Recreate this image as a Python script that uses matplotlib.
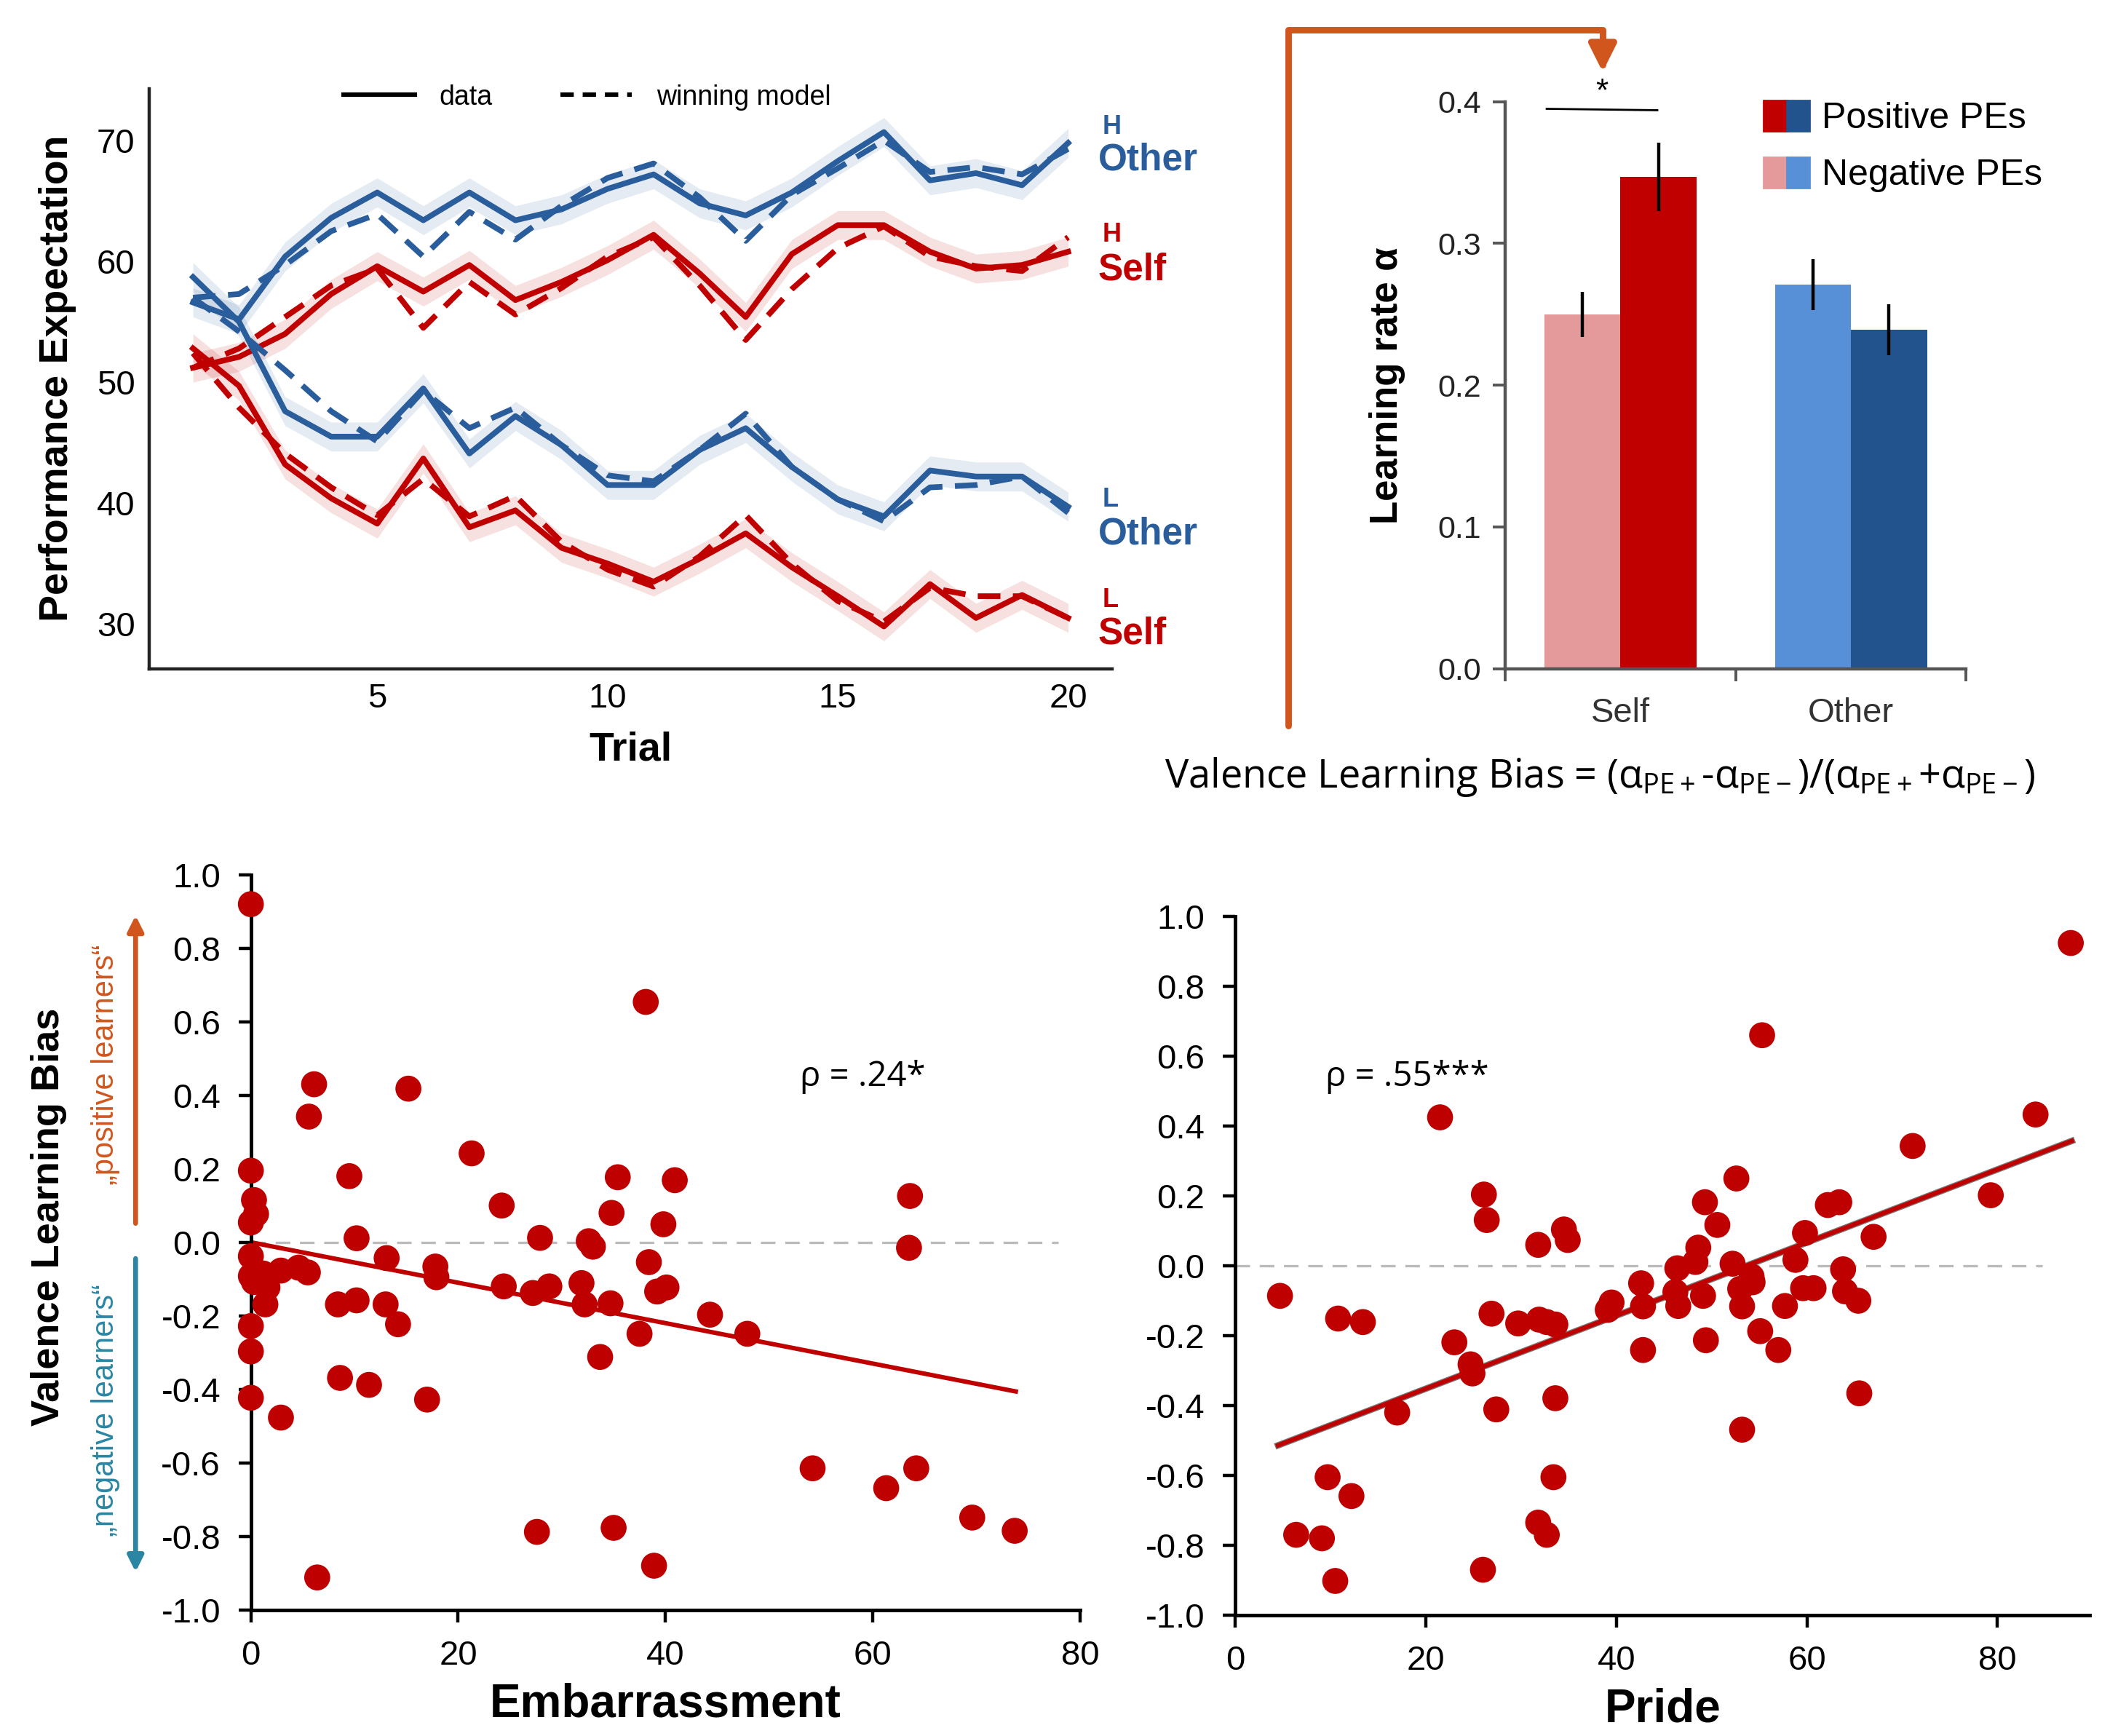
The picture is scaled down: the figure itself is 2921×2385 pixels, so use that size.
import matplotlib
matplotlib.use('Agg')
import matplotlib.pyplot as plt
import numpy as np
from matplotlib.patches import FancyArrowPatch, Patch
from matplotlib.path import Path
from matplotlib.lines import Line2D
from matplotlib.legend_handler import HandlerTuple
from matplotlib.ticker import FormatStrFormatter

plt.rcParams['font.family'] = ['Liberation Sans', 'DejaVu Sans']
plt.rcParams['axes.unicode_minus'] = False
plt.rcParams['mathtext.fontset'] = 'custom'
plt.rcParams['mathtext.rm'] = 'Open Sans'
plt.rcParams['mathtext.it'] = 'Open Sans'
plt.rcParams['mathtext.bf'] = 'Open Sans:bold'

# ---- data: performance expectation per trial ----
trials = np.arange(1, 21)
h_other_data = [56.6, 55.2, 60.4, 63.6, 65.7, 63.4, 65.7, 63.4, 64.3, 66.0,
                67.2, 64.8, 63.8, 65.7, 68.3, 70.7, 66.7, 67.3, 66.3, 69.8]
h_other_model = [57.0, 57.3, 59.7, 62.5, 63.9, 60.4, 64.1, 61.8, 64.6, 66.9,
                 68.1, 65.3, 61.7, 65.5, 67.7, 70.0, 67.4, 67.8, 67.2, 69.3]
h_self_data = [51.2, 52.1, 54.0, 57.3, 59.6, 57.5, 59.7, 56.8, 58.3, 60.1,
               62.2, 59.0, 55.4, 60.6, 63.0, 63.0, 60.8, 59.4, 59.7, 60.8]
h_self_model = [51.2, 52.8, 55.4, 58.0, 59.4, 54.5, 58.3, 55.6, 57.8, 60.4,
                62.0, 58.0, 53.5, 57.7, 61.1, 62.9, 60.4, 59.6, 59.2, 62.0]
l_other_data = [58.7, 55.0, 47.6, 45.5, 45.5, 49.5, 44.1, 47.2, 44.8, 41.5,
                41.5, 44.4, 46.2, 43.0, 40.3, 38.9, 42.7, 42.2, 42.2, 39.7]
l_other_model = [57.0, 54.2, 51.0, 47.6, 45.1, 49.3, 46.2, 47.9, 44.8, 42.3,
                 41.8, 44.4, 47.4, 43.0, 40.3, 38.5, 41.3, 41.5, 42.2, 39.2]
l_self_data = [52.8, 49.7, 43.2, 40.4, 38.3, 43.7, 38.0, 39.4, 36.3, 35.0,
               33.5, 35.4, 37.5, 34.7, 32.3, 29.8, 33.3, 30.5, 32.4, 30.5]
l_self_model = [52.4, 47.9, 44.1, 41.3, 39.0, 42.0, 38.9, 40.6, 36.8, 34.5,
                33.1, 35.6, 39.0, 35.0, 31.9, 30.2, 33.0, 32.3, 32.3, 30.5]
band_halfwidth = 1.2

# ---- data: learning rates ----
agents = ['Self', 'Other']
lr_negative = [0.250, 0.271]
lr_negative_err = [0.016, 0.018]
lr_positive = [0.347, 0.239]
lr_positive_err = [0.024, 0.018]

# ---- data: embarrassment vs bias ----
emb_x = [0, 0, 0.3, 0.5, 0, 0, 0, 0.3, 1.2, 1.6, 1.4, 0, 0, 0, 2.9, 4.6, 5.5, 2.9,
         6.1, 5.6, 6.4, 8.4, 8.6, 9.5, 10.2, 10.2, 11.4, 13.1, 13.0, 14.2, 15.2,
         17.0, 17.8, 17.9, 21.3, 24.2, 24.4, 27.2, 27.6, 27.9, 28.8, 31.9, 32.2,
         32.6, 33.0, 33.7, 34.7, 34.8, 35.0, 35.4, 37.5, 38.1, 38.4, 39.2, 40.1,
         38.9, 39.8, 40.9, 44.3, 47.9, 54.2, 61.3, 63.6, 63.5, 64.2, 69.6, 73.7]
emb_y = [0.92, 0.195, 0.115, 0.077, 0.054, -0.038, -0.092, -0.108, -0.085, -0.123,
         -0.169, -0.228, -0.297, -0.423, -0.077, -0.069, -0.082, -0.477, 0.43, 0.342,
         -0.912, -0.169, -0.369, 0.18, 0.011, -0.158, -0.388, -0.043, -0.169, -0.223,
         0.418, -0.428, -0.066, -0.095, 0.242, 0.10, -0.12, -0.138, -0.788, 0.012,
         -0.12, -0.111, -0.169, 0.003, -0.012, -0.312, -0.166, 0.08, -0.777, 0.177,
         -0.249, 0.654, -0.054, -0.134, -0.123, -0.88, 0.049, 0.169, -0.197, -0.249,
         -0.615, -0.669, 0.126, -0.015, -0.615, -0.749, -0.785]
emb_fit = (0.0, -0.0055)      # intercept, slope
emb_fit_range = (0.0, 73.8)
emb_rho = 'ρ = .24*'

# ---- data: pride vs bias ----
pride_x = [4.7, 6.4, 9.1, 9.7, 10.5, 10.8, 12.2, 13.4, 17.0, 21.5, 23.0, 24.7, 24.9,
           26.0, 26.1, 26.4, 26.9, 27.4, 29.7, 31.8, 31.9, 31.8, 32.7, 32.7, 33.6,
           33.4, 33.6, 34.5, 34.9, 39.1, 39.5, 42.6, 42.8, 42.8, 46.4, 46.2, 46.5,
           48.3, 48.6, 49.1, 49.3, 49.4, 50.6, 52.2, 52.6, 53.0, 53.2, 53.2, 54.2,
           54.3, 55.1, 55.3, 57.0, 57.7, 58.8, 59.6, 59.8, 60.7, 62.2, 63.4, 63.8,
           64.0, 65.4, 65.5, 67.0, 71.1, 79.3, 84.0, 87.7]
pride_y = [-0.087, -0.771, -0.781, -0.606, -0.903, -0.152, -0.66, -0.162, -0.421,
           0.424, -0.22, -0.283, -0.309, -0.871, 0.203, 0.13, -0.138, -0.412, -0.166,
           0.059, -0.155, -0.736, -0.771, -0.162, -0.169, -0.606, -0.38, 0.103, 0.073,
           -0.127, -0.106, -0.051, -0.117, -0.242, -0.008, -0.076, -0.116, 0.01, 0.051,
           -0.087, 0.181, -0.214, 0.116, 0.005, 0.249, -0.067, -0.117, -0.47, -0.032,
           -0.048, -0.188, 0.659, -0.242, -0.116, 0.016, -0.065, 0.093, -0.065, 0.173,
           0.181, -0.011, -0.074, -0.101, -0.366, 0.082, 0.342, 0.201, 0.432, 0.923]
pride_fit = (-0.562, 0.01046)
pride_fit_range = (4.5, 87.8)
pride_rho = 'ρ = .55***'

bias_ticks = [-1.0, -0.8, -0.6, -0.4, -0.2, 0.0, 0.2, 0.4, 0.6, 0.8, 1.0]

RED = '#c00000'
BLUE = '#2a5d9b'
ORANGE = '#d0561d'
TEAL = '#2a86a3'
DOT = '#bf0000'

fig = plt.figure(figsize=(14.605, 11.925), dpi=200)

# ================= top-left: expectations =================
ax1 = fig.add_axes([0.0702, 0.6148, 0.4528, 0.3342])
series = [(h_other_data, h_other_model, BLUE), (h_self_data, h_self_model, RED),
          (l_other_data, l_other_model, BLUE), (l_self_data, l_self_model, RED)]
for d, m, c in series:
    d = np.array(d)
    ax1.fill_between(trials, d - band_halfwidth, d + band_halfwidth, color=c,
                     alpha=0.12, lw=0)
    ax1.plot(trials, m, color=c, lw=2.8, ls=(0, (4, 2.2)))
    ax1.plot(trials, d, color=c, lw=2.8)
ax1.set_xlim(0.05, 20.95)
ax1.set_ylim(26.3, 74.3)
ax1.set_xticks([5, 10, 15, 20])
ax1.set_yticks([30, 40, 50, 60, 70])
ax1.tick_params(length=0, labelsize=17, pad=7)
for s in ['top', 'right']:
    ax1.spines[s].set_visible(False)
for s in ['left', 'bottom']:
    ax1.spines[s].set_linewidth(1.6)
    ax1.spines[s].set_color('#222222')
ax1.set_xlabel('Trial', fontsize=20, fontweight='bold', labelpad=8)
ax1.set_ylabel('Performance Expectation', fontsize=20, fontweight='bold', labelpad=10)
leg_handles = [Line2D([], [], color='black', lw=2.2),
               Line2D([], [], color='black', lw=2.2, ls=(0, (3, 2)))]
ax1.legend(leg_handles, ['data', 'winning model'], ncol=2, frameon=False,
           loc='upper center', bbox_to_anchor=(0.455, 1.05), fontsize=13.5,
           handlelength=2.6, columnspacing=2.5, handletextpad=0.9)
side_labels = [('H', 'Other', 71.1, 68.4, BLUE), ('H', 'Self', 62.2, 59.3, RED),
               ('L', 'Other', 40.3, 37.4, BLUE), ('L', 'Self', 32.0, 29.2, RED)]
for small, big, ys, yb, c in side_labels:
    ax1.text(20.75, ys, small, color=c, fontsize=13, fontweight='bold',
             va='center', ha='left', clip_on=False)
    ax1.text(20.65, yb, big, color=c, fontsize=18.5, fontweight='bold',
             va='center', ha='left', clip_on=False)

# ================= top-right: learning rates =================
ax2 = fig.add_axes([0.708, 0.6148, 0.2168, 0.3266])
pos = np.arange(len(agents))
w = 0.33
neg_colors = ['#e49a9a', '#5890d7']
pos_colors = ['#c00000', '#23538c']
ax2.bar(pos - w / 2, lr_negative, w, color=neg_colors, yerr=lr_negative_err,
        error_kw=dict(lw=1.6, capsize=0, ecolor='black'))
ax2.bar(pos + w / 2, lr_positive, w, color=pos_colors, yerr=lr_positive_err,
        error_kw=dict(lw=1.6, capsize=0, ecolor='black'))
ax2.set_xlim(-0.5, 1.5)
ax2.set_ylim(0, 0.4)
ax2.set_yticks([0.0, 0.1, 0.2, 0.3, 0.4])
ax2.yaxis.set_major_formatter(FormatStrFormatter('%.1f'))
ax2.set_xticks([-0.5, 0.5, 1.5])
ax2.set_xticklabels(['', '', ''])
ax2.set_xticks(pos, minor=True)
ax2.set_xticklabels(agents, minor=True)
ax2.tick_params(axis='x', which='minor', length=0, labelsize=17, pad=14,
                labelcolor='#333333')
ax2.tick_params(axis='x', which='major', length=6, width=1.4, color='#555555')
ax2.tick_params(axis='y', length=6, width=1.4, color='#555555', labelsize=15.5,
                labelcolor='#222222', pad=6)
for s in ['top', 'right']:
    ax2.spines[s].set_visible(False)
for s in ['left', 'bottom']:
    ax2.spines[s].set_linewidth(1.6)
    ax2.spines[s].set_color('#555555')
ax2.set_ylabel('Learning rate α', fontsize=19, fontweight='bold', labelpad=16)
ax2.plot([-0.32, 0.16], [0.395, 0.394], color='black', lw=1.0)
ax2.text(-0.08, 0.396, '*', ha='center', va='bottom', fontsize=16)
h_pos = (Patch(color=pos_colors[0]), Patch(color=pos_colors[1]))
h_neg = (Patch(color=neg_colors[0]), Patch(color=neg_colors[1]))
ax2.legend([h_pos, h_neg], ['Positive PEs', 'Negative PEs'],
           handler_map={tuple: HandlerTuple(ndivide=None, pad=0)},
           frameon=False, fontsize=18, loc='upper left',
           bbox_to_anchor=(0.49, 1.06), handlelength=1.25, handleheight=0.9,
           handletextpad=0.35, labelspacing=0.6)

# orange connector from bias formula to bars
verts = [(950 / 1568, 1 - 535 / 1280), (950 / 1568, 1 - 22 / 1280),
         (1182 / 1568, 1 - 22 / 1280), (1182 / 1568, 1 - 53 / 1280)]
conn = FancyArrowPatch(path=Path(verts), arrowstyle='-|>', mutation_scale=28,
                       color=ORANGE, lw=3.2, transform=fig.transFigure,
                       joinstyle='round', capstyle='round')
fig.add_artist(conn)

fig.text(0.7526, 0.5523,
         r'Valence Learning Bias = ($\alpha_{\mathrm{PE+}}$-$\alpha_{\mathrm{PE-}}$)/'
         r'($\alpha_{\mathrm{PE+}}$+$\alpha_{\mathrm{PE-}}$)',
         ha='center', va='center', fontsize=19.5, family=['Open Sans', 'DejaVu Sans'])


def scatter_panel(ax, x, y, fit, fit_range, xlim, zero_end, rho, rho_xy, xlabel):
    ax.axhline(0, xmin=0, xmax=zero_end / xlim[1], color='#bbbbbb', lw=1.2,
               ls=(0, (6, 4)), zorder=1)
    ax.scatter(x, y, s=165, color=DOT, edgecolors='none', zorder=3, clip_on=False)
    fx = np.array(fit_range)
    fy = fit[0] + fit[1] * fx
    ax.plot(fx, fy, color=RED, lw=2.2, zorder=2)
    ax.set_xlim(*xlim)
    ax.set_ylim(-1.0, 1.0)
    ax.set_yticks(bias_ticks)
    ax.yaxis.set_major_formatter(FormatStrFormatter('%.1f'))
    ax.set_xticks([0, 20, 40, 60, 80])
    ax.tick_params(length=6, width=1.6, labelsize=17, pad=9)
    for s in ['top', 'right']:
        ax.spines[s].set_visible(False)
    for s in ['left', 'bottom']:
        ax.spines[s].set_linewidth(1.8)
    ax.set_xlabel(xlabel, fontsize=23, fontweight='bold', labelpad=5)
    ax.text(rho_xy[0], rho_xy[1], rho, fontsize=17, ha='left', va='center',
            family=['Open Sans', 'DejaVu Sans'])


ax3 = fig.add_axes([0.118, 0.0727, 0.39, 0.4234])
scatter_panel(ax3, emb_x, emb_y, emb_fit, emb_fit_range, (0, 80), 77.9,
              emb_rho, (53.0, 0.45), 'Embarrassment')
ax3.set_ylabel('Valence Learning Bias', fontsize=19.5, fontweight='bold')
ax3.yaxis.set_label_coords(-0.222, 0.535)

ax4 = fig.add_axes([0.581, 0.0698, 0.402, 0.4025])
scatter_panel(ax4, pride_x, pride_y, pride_fit, pride_fit_range, (0, 89.7), 84.7,
              pride_rho, (9.5, 0.54), 'Pride')
ax4.plot(pride_fit_range, [pride_fit[0] + pride_fit[1] * v for v in pride_fit_range],
         color='#777777', lw=3.2, zorder=1.9)

# positive / negative learner arrows
fig.add_artist(FancyArrowPatch((100 / 1568, 1 - 905 / 1280), (100 / 1568, 1 - 672 / 1280),
                               arrowstyle='-|>', mutation_scale=16, color=ORANGE,
                               lw=2.4, transform=fig.transFigure))
fig.add_artist(FancyArrowPatch((100 / 1568, 1 - 925 / 1280), (100 / 1568, 1 - 1162 / 1280),
                               arrowstyle='-|>', mutation_scale=16, color=TEAL,
                               lw=2.4, transform=fig.transFigure))
fig.text(78 / 1568, 1 - 785 / 1280, '„positive learners“', rotation=90, color=ORANGE,
         fontsize=15, ha='center', va='center')
fig.text(78 / 1568, 1 - 1040 / 1280, '„negative learners“', rotation=90, color=TEAL,
         fontsize=15, ha='center', va='center')

fig.savefig('out.png', dpi=200)
